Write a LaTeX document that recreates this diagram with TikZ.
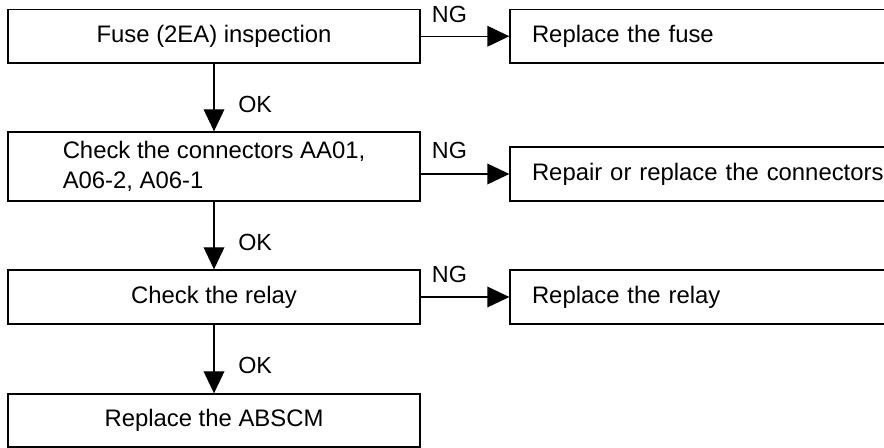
\documentclass[tikz,border=0pt]{standalone}
\usepackage{fontspec}
\setmainfont{Liberation Sans}
\usetikzlibrary{arrows.meta,calc}
\tikzset{
  box/.style={draw, line width=1pt, rectangle, inner sep=0pt, align=center,
    minimum width=412*0.75pt, font=\fontsize{17.9}{22.5}\selectfont},
  rbox/.style={draw, line width=1pt, rectangle, inner xsep=22*0.75pt, inner ysep=0pt,
    text width=400*0.75pt, align=left, minimum width=444*0.75pt,
    font=\fontsize{17.9}{22.5}\selectfont},
  arr/.style={draw, line width=1pt, -{Triangle[width=15.5pt,length=16.5pt]}},
  lbl/.style={inner sep=0pt, font=\fontsize{17.5}{21}\selectfont},
}
\begin{document}
\begin{tikzpicture}[x=0.75pt,y=-0.75pt]
\useasboundingbox (0,0) rectangle (884,448);
\clip (0,0) rectangle (884,448);
% left column
\node[box, minimum height=53.5*0.75pt] (b1) at (214,36.25) {Fuse (2EA) inspection};
\node[box, align=left, minimum height=69*0.75pt] (b2) at (214,166.5) {Check the connectors AA01,\\A06-2, A06-1};
\node[box, minimum height=54*0.75pt] (b3) at (214,297) {Check the relay};
\node[box, minimum height=53*0.75pt] (b4) at (214,420.5) {Replace the ABSCM};
% right column
\node[rbox, minimum height=53.5*0.75pt] (r1) at (732,36.25) {Replace the fuse};
\node[rbox, minimum height=54*0.75pt] (r2) at (732,174) {Repair or replace the connectors};
\node[rbox, minimum height=54*0.75pt] (r3) at (732,297) {Replace the relay};
% OK arrows
\draw[arr] (b1.south) -- (b2.north);
\draw[arr] (b2.south) -- (b3.north);
\draw[arr] (b3.south) -- (b4.north);
\node[lbl, anchor=west] (ok1) at ($(b1.south)+(24,41)$) {OK};
\node[lbl, anchor=west] (ok2) at ($(b2.south)+(24,41)$) {OK};
\node[lbl, anchor=west] (ok3) at ($(b3.south)+(24,41)$) {OK};
% NG arrows
\coordinate (s1) at (r1.west -| b1.east);
\coordinate (s2) at (r2.west -| b2.east);
\coordinate (s3) at (r3.west -| b3.east);
\draw[arr] (s1) -- (r1.west);
\draw[arr] (s2) -- (r2.west);
\draw[arr] (s3) -- (r3.west);
\node[lbl, anchor=base west] (ng1) at ($(s1)+(11,-14)$) {NG};
\node[lbl, anchor=base west] (ng2) at ($(s2)+(11,-15)$) {NG};
\node[lbl, anchor=base west] (ng3) at ($(s3)+(11,-14)$) {NG};
\end{tikzpicture}
\end{document}
